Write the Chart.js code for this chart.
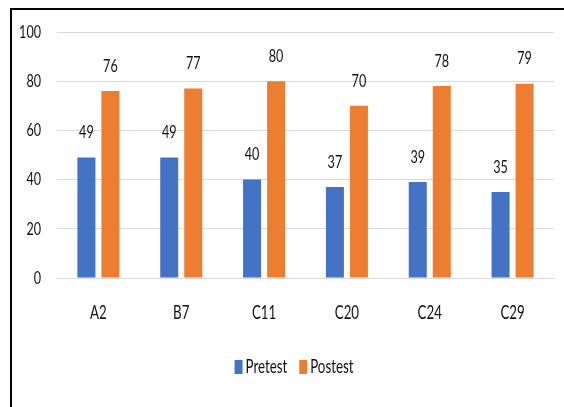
<!DOCTYPE html>
<html>
<head>
<meta charset="utf-8">
<script src="https://cdn.jsdelivr.net/npm/chart.js@4.4.1/dist/chart.umd.min.js"></script>
<style>
  html, body { margin: 0; padding: 0; background: #fff; overflow: hidden; }
  body { width: 564px; height: 407px; }
  #c { display: block; }
</style>
</head>
<body>
<canvas id="c" width="564" height="407"></canvas>
<script>
const categories = ['A2', 'B7', 'C11', 'C20', 'C24', 'C29'];
const pretest = [49, 49, 40, 37, 39, 35];
const postest = [76, 77, 80, 70, 78, 79];
const yTicks = [0, 20, 40, 60, 80, 100];

const FAMILY = 'Lato, "Liberation Sans", sans-serif';
const TEXT = '#111';
const SQUEEZE = 0.7;   // narrow, condensed lettering

// Draws text compressed horizontally around its anchor point
function narrowText(ctx, str, x, y, size, align) {
  ctx.save();
  ctx.font = size + 'px ' + FAMILY;
  ctx.fillStyle = TEXT;
  ctx.textBaseline = 'middle';
  ctx.textAlign = align;
  ctx.translate(x, y);
  ctx.scale(SQUEEZE, 1);
  ctx.fillText(str, 0, 0);
  ctx.restore();
}

function narrowWidth(ctx, str, size) {
  ctx.save();
  ctx.font = size + 'px ' + FAMILY;
  const w = ctx.measureText(str).width * SQUEEZE;
  ctx.restore();
  return w;
}

// Open frame: rule along the top and down the left side
const frame = {
  id: 'frame',
  beforeDraw(chart) {
    const ctx = chart.ctx;
    ctx.save();
    ctx.fillStyle = '#000';
    ctx.fillRect(10, 8, chart.width - 10, 2);
    ctx.fillRect(10, 8, 2, chart.height - 8);
    ctx.restore();
  }
};

// Axis labels, bar values and legend, all in the narrow lettering
const narrowLabels = {
  id: 'narrowLabels',
  afterDraw(chart) {
    const ctx = chart.ctx;
    const xs = chart.scales.x, ys = chart.scales.y;

    ys.ticks.forEach(t => {
      narrowText(ctx, String(t.value), 41, ys.getPixelForValue(t.value), 18, 'right');
    });
    xs.ticks.forEach((t, i) => {
      narrowText(ctx, categories[i], xs.getPixelForTick(i), 313, 19, 'center');
    });

    chart.data.datasets.forEach((ds, i) => {
      chart.getDatasetMeta(i).data.forEach((bar, j) => {
        narrowText(ctx, String(ds.data[j]), bar.x, bar.y - 25, 18, 'center');
      });
    });

    // legend row
    const items = chart.data.datasets.map(ds => ({ label: ds.label, color: ds.backgroundColor }));
    const boxW = 8, boxH = 14, gapBox = 3, gapItem = 12, cy = 367;
    const widths = items.map(it => boxW + gapBox + narrowWidth(ctx, it.label, 19));
    const total = widths.reduce((a, b) => a + b, 0) + gapItem * (items.length - 1);
    let x = 294 - total / 2;
    items.forEach((it, k) => {
      ctx.fillStyle = it.color;
      ctx.fillRect(x, cy - boxH / 2, boxW, boxH);
      narrowText(ctx, it.label, x + boxW + gapBox, cy, 19, 'left');
      x += widths[k] + gapItem;
    });
  }
};

new Chart(document.getElementById('c'), {
  type: 'bar',
  data: {
    labels: categories,
    datasets: [
      { label: 'Pretest', data: pretest, backgroundColor: '#4472C4' },
      { label: 'Postest', data: postest, backgroundColor: '#ED7D31' }
    ]
  },
  options: {
    responsive: false,
    animation: false,
    layout: { padding: { left: 0, right: 10, top: 32, bottom: 0 } },
    datasets: { bar: { categoryPercentage: 0.58, barPercentage: 0.75 } },
    plugins: {
      tooltip: { enabled: false },
      legend: { display: false }
    },
    scales: {
      x: {
        grid: { display: false },
        border: { display: true, color: '#d9d9d9', width: 1 },
        ticks: { color: 'rgba(0,0,0,0)' },
        afterFit(scale) { scale.height = 129; }
      },
      y: {
        min: 0, max: 100,
        afterBuildTicks(scale) { scale.ticks = yTicks.map(v => ({ value: v })); },
        grid: { color: '#d9d9d9', drawTicks: false },
        border: { display: false },
        ticks: { color: 'rgba(0,0,0,0)' },
        afterFit(scale) { scale.width = 57; }
      }
    }
  },
  plugins: [frame, narrowLabels]
});
</script>
</body>
</html>
